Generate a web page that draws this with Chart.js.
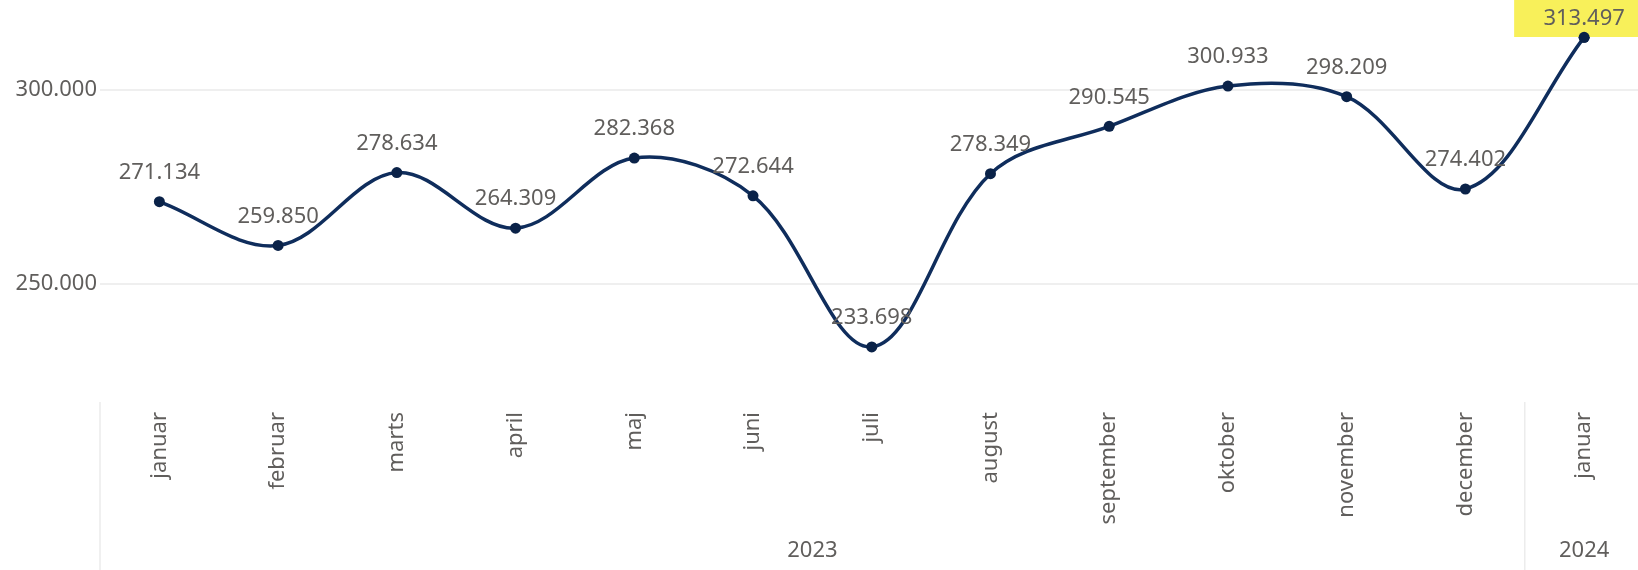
<!DOCTYPE html>
<html lang="da">
<head>
<meta charset="UTF-8">
<title>Månedlig udvikling</title>
<script src="https://cdn.jsdelivr.net/npm/chart.js@4.4.1/dist/chart.umd.min.js"></script>
<style>
    html, body { margin: 0; padding: 0; background: #ffffff; overflow: hidden; }
    .chart-container { position: relative; width: 1649px; height: 570px; }
</style>
</head>
<body>

<div class="chart-container">
    <canvas id="chart"></canvas>
</div>

<script>
// data
const months = ['januar', 'februar', 'marts', 'april', 'maj', 'juni', 'juli', 'august', 'september', 'oktober', 'november', 'december', 'januar'];
const values = [271134, 259850, 278634, 264309, 282368, 272644, 233698, 278349, 290545, 300933, 298209, 274402, 313497];
const years = ['2023', '2024'];
const yearFirst = [0, 12];
const yearLast = [11, 12];
const yTicks = [250000, 300000];

const textColor = '#605e5c';
const fontFamily = '"Segoe UI", "Noto Sans", "Open Sans", sans-serif';

// 300000 -> 300.000
function fmt(v) {
    return String(Math.round(v)).replace(/\B(?=(\d{3})+(?!\d))/g, '.');
}

// value labels above each point, last one highlighted
const valueLabels = {
    id: 'valueLabels',
    afterDatasetsDraw(chart) {
        const ctx = chart.ctx;
        const meta = chart.getDatasetMeta(0);
        ctx.save();
        ctx.font = '22px ' + fontFamily;
        ctx.textAlign = 'center';
        ctx.textBaseline = 'middle';
        meta.data.forEach((pt, i) => {
            const y = Math.max(pt.y - 29, 19);
            if (i === values.length - 1) {
                ctx.fillStyle = '#f8f05a';
                ctx.fillRect(pt.x - 70, 0, chart.width - (pt.x - 70), y + 18);
            }
            ctx.fillStyle = textColor;
            ctx.fillText(fmt(values[i]), pt.x, y);
        });
        // draw the last point again on top of the highlight
        const last = meta.data[values.length - 1];
        ctx.fillStyle = '#0a2248';
        ctx.beginPath();
        ctx.arc(last.x, last.y, 5.5, 0, Math.PI * 2);
        ctx.fill();
        ctx.restore();
    }
};

// year row + separators under the month labels
const yearAxis = {
    id: 'yearAxis',
    afterDraw(chart) {
        const ctx = chart.ctx;
        const x = chart.scales.x;
        const area = chart.chartArea;
        const half = (x.getPixelForValue(1) - x.getPixelForValue(0)) / 2;
        ctx.save();
        ctx.strokeStyle = '#ececec';
        ctx.lineWidth = 1.5;
        ctx.beginPath();
        ctx.moveTo(area.left, area.bottom);
        ctx.lineTo(area.left, chart.height);
        years.forEach((yr, i) => {
            if (i > 0) {
                const sx = x.getPixelForValue(yearFirst[i]) - half;
                ctx.moveTo(sx, area.bottom);
                ctx.lineTo(sx, chart.height);
            }
        });
        ctx.stroke();

        ctx.font = '22px ' + fontFamily;
        ctx.fillStyle = textColor;
        ctx.textAlign = 'center';
        ctx.textBaseline = 'middle';
        years.forEach((yr, i) => {
            const cx = (x.getPixelForValue(yearFirst[i]) + x.getPixelForValue(yearLast[i])) / 2;
            ctx.fillText(yr, cx, 551);
        });
        ctx.restore();
    }
};

const ctx = document.getElementById('chart').getContext('2d');

const myChart = new Chart(ctx, {
    type: 'line',
    data: {
        labels: months,
        datasets: [{
            data: values,
            borderColor: '#0f2d5c',
            backgroundColor: '#0a2248',
            borderWidth: 3.5,
            tension: 0.35,
            pointRadius: 5.5,
            pointBackgroundColor: '#0a2248',
            pointBorderWidth: 0,
            clip: false
        }]
    },
    options: {
        responsive: true,
        maintainAspectRatio: false,
        animation: false,
        layout: { padding: 0 },
        plugins: {
            legend: { display: false },
            tooltip: { enabled: false }
        },
        scales: {
            x: {
                offset: true,
                grid: { display: false, drawTicks: false },
                border: { display: false },
                ticks: {
                    autoSkip: false,
                    minRotation: 90,
                    maxRotation: 90,
                    padding: 10,
                    color: textColor,
                    font: { size: 22, family: fontFamily }
                },
                afterFit(scale) {
                    scale.height = 168;
                    scale.paddingLeft = 0;
                    scale.paddingRight = 0;
                }
            },
            y: {
                min: 219500,
                max: 321700,
                grid: { color: '#efefef', lineWidth: 2, drawTicks: false },
                border: { display: false },
                ticks: {
                    padding: 3,
                    color: textColor,
                    font: { size: 22, family: fontFamily },
                    callback: function(value) { return fmt(value); }
                },
                afterBuildTicks(axis) {
                    axis.ticks = yTicks.map(v => ({ value: v }));
                },
                afterFit(scale) {
                    scale.width = 100;
                    scale.paddingTop = 0;
                    scale.paddingBottom = 0;
                }
            }
        }
    },
    plugins: [valueLabels, yearAxis]
});
</script>
</body>
</html>
